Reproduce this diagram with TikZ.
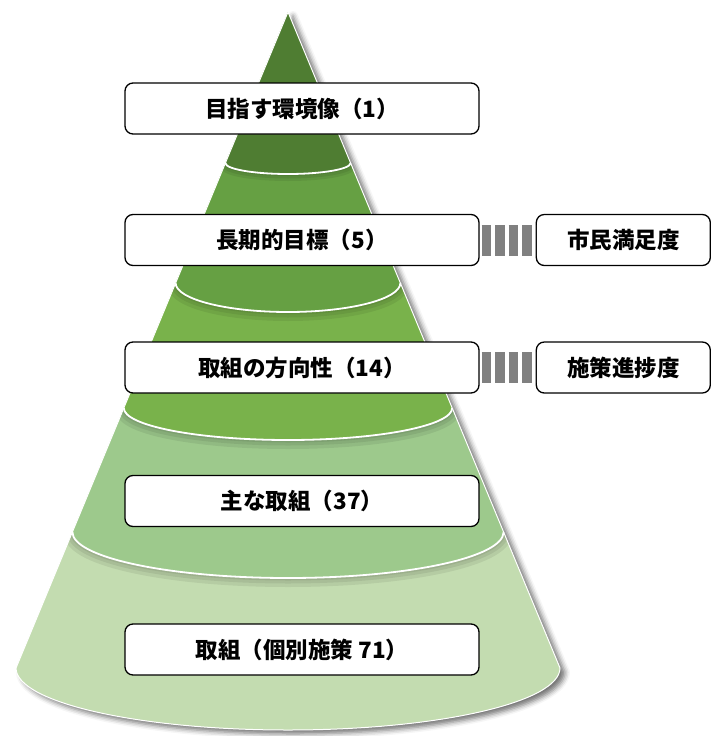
\documentclass[tikz,border=0pt]{standalone}
\usepackage{fontspec}
\newfontfamily\jp{Noto Sans CJK JP}
\usetikzlibrary{positioning,shadows.blur}

\definecolor{layerA}{HTML}{4F7D32}
\definecolor{layerB}{HTML}{66A043}
\definecolor{layerC}{HTML}{79B24B}
\definecolor{layerD}{HTML}{9DC98C}
\definecolor{layerE}{HTML}{C3DCB0}
\definecolor{linkgray}{HTML}{808080}

\tikzset{
  levelbox/.style={draw, line width=1.3pt, rounded corners=8pt, fill=white,
    minimum width=354pt, minimum height=51pt, inner sep=0pt,
    font=\jp\bfseries\fontsize{22.5}{26}\selectfont},
  measurebox/.style={levelbox, minimum width=174pt},
  link/.style={draw=linkgray, line width=31pt, dash pattern=on 9.5pt off 4pt, dash phase=11.5pt},
  seam/.style={draw=white, line width=1.8pt},
  arcshade/.style={draw=black, line width=#1, opacity=0.07}
}

\begin{document}
\begin{tikzpicture}[x=1pt,y=-1pt]
  \useasboundingbox (0,0) rectangle (715,736);
  % cone with its shadow
  \fill[layerE, blur shadow={shadow xshift=5pt, shadow yshift=-4pt, shadow blur radius=5pt, shadow opacity=55}]
    (288,12) -- (16,668) arc[start angle=180, end angle=0, x radius=272, y radius=62] -- cycle;
  \begin{scope}
    \clip (288,12) -- (16,668) arc[start angle=180, end angle=0, x radius=272, y radius=62] -- cycle;
    % layers, bottom up, each with a soft shade under its rim
    \foreach \w in {18pt,11pt,5pt}
      \draw[arcshade=\w] (72.4,532) arc[start angle=180, end angle=0, x radius=215.6, y radius=46];
    \fill[layerD] (288,12) -- (72.4,532) arc[start angle=180, end angle=0, x radius=215.6, y radius=46] -- cycle;
    \foreach \w in {18pt,11pt,5pt}
      \draw[arcshade=\w] (123.8,408) arc[start angle=180, end angle=0, x radius=164.2, y radius=32];
    \fill[layerC] (288,12) -- (123.8,408) arc[start angle=180, end angle=0, x radius=164.2, y radius=32] -- cycle;
    \foreach \w in {18pt,11pt,5pt}
      \draw[arcshade=\w] (175.6,283) arc[start angle=180, end angle=0, x radius=112.4, y radius=29];
    \fill[layerB] (288,12) -- (175.6,283) arc[start angle=180, end angle=0, x radius=112.4, y radius=29] -- cycle;
    \foreach \w in {14pt,9pt,4pt}
      \draw[arcshade=\w] (225.4,163) arc[start angle=180, end angle=0, x radius=62.6, y radius=11];
    \fill[layerA] (288,12) -- (225.4,163) arc[start angle=180, end angle=0, x radius=62.6, y radius=11] -- cycle;
  \end{scope}
  \draw[seam] (72.4,532) arc[start angle=180, end angle=0, x radius=215.6, y radius=46];
  \draw[seam] (123.8,408) arc[start angle=180, end angle=0, x radius=164.2, y radius=32];
  \draw[seam] (175.6,283) arc[start angle=180, end angle=0, x radius=112.4, y radius=29];
  \draw[seam] (225.4,163) arc[start angle=180, end angle=0, x radius=62.6, y radius=11];
  \draw[white, line width=1pt] (288,12) -- (16,668) arc[start angle=180, end angle=0, x radius=272, y radius=62] -- cycle;

  % levels
  \node[levelbox] (goal) at (302,108.5) {目指す環境像（1）};
  \node[levelbox] (target) at (302,240) {長期的目標（5）};
  \node[levelbox] (policy) at (302,367.5) {取組の方向性（14）};
  \node[levelbox] (main) at (302,501) {主な取組（37）};
  \node[levelbox] (action) at (302,649.5) {取組（個別施策 71）};

  % measures
  \node[measurebox, right=56pt of target] (satisfy) {市民満足度};
  \node[measurebox, right=56pt of policy] (progress) {施策進捗度};
  \draw[link] (target) -- (satisfy);
  \draw[link] (policy) -- (progress);
\end{tikzpicture}
\end{document}
